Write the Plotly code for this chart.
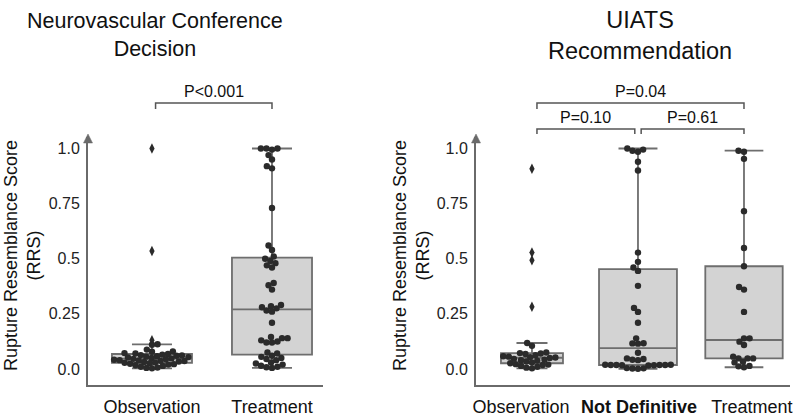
import math
import plotly.graph_objects as go

# ---------------- data ----------------
left_categories = ["Observation", "Treatment"]
left_observation = [1.0, 0.535, 0.13, 0.112, 0.11, 0.088, 0.08, 0.078, 0.072, 0.07, 0.068,
                    0.065, 0.063, 0.061, 0.06, 0.058, 0.056, 0.054, 0.052, 0.05, 0.048,
                    0.046, 0.044, 0.042, 0.04, 0.039, 0.037, 0.036, 0.034, 0.032, 0.03,
                    0.028, 0.026, 0.024, 0.022, 0.02, 0.017, 0.014, 0.01, 0.007, 0.005, 0.003]
left_treatment = [1.0, 1.0, 1.0, 0.995, 0.97, 0.95, 0.92, 0.91,
                  0.73, 0.56, 0.54, 0.51,
                  0.50, 0.49, 0.48, 0.47, 0.46, 0.38, 0.39, 0.36, 0.29, 0.285, 0.28, 0.275,
                  0.265, 0.26, 0.21, 0.145, 0.14, 0.14, 0.13, 0.125, 0.12, 0.12, 0.075, 0.07,
                  0.06, 0.055, 0.05, 0.045, 0.04, 0.03, 0.025, 0.02, 0.015, 0.01, 0.008, 0.005]

right_categories = ["Observation", "<b>Not Definitive</b>", "Treatment"]
right_observation = [0.908, 0.528, 0.493, 0.282, 0.118, 0.105,
                     0.075, 0.072, 0.07, 0.068, 0.062, 0.058, 0.056, 0.054, 0.052, 0.05,
                     0.046, 0.042, 0.04, 0.038, 0.034, 0.03, 0.026, 0.022, 0.02, 0.018,
                     0.014, 0.01, 0.006, 0.003]
right_not_definitive = [1.0, 0.995, 0.99, 0.985, 0.94, 0.90,
                        0.528, 0.486, 0.46, 0.445, 0.377, 0.277, 0.259, 0.21, 0.139,
                        0.117, 0.116, 0.115,
                        0.074, 0.048, 0.045, 0.042, 0.04,
                        0.019, 0.018, 0.018, 0.017, 0.016, 0.018, 0.019, 0.017, 0.018,
                        0.004, 0.003, 0.002, 0.001]
right_treatment = [0.99, 0.985, 0.953, 0.716, 0.549, 0.466, 0.372, 0.36, 0.259,
                   0.139, 0.139, 0.124, 0.109,
                   0.056, 0.048, 0.048, 0.048, 0.033, 0.03, 0.014, 0.012, 0.008]

y_tickvals = [0, 0.25, 0.5, 0.75, 1.0]
y_ticktext = ["0.0", "0.25", "0.5", "0.75", "1.0"]

left_pvalues = [(0, 1, "P<0.001", 0)]
right_pvalues = [(0, 2, "P=0.04", 0), (0, 1, "P=0.10", 1), (1, 2, "P=0.61", 1)]

# ---------------- layout constants ----------------
OFF = 0                      # page body margin is removed by the post script
W, H = 800, 420
FONT = "Liberation Sans, Arial, Helvetica, sans-serif"
Y_TOP_PX, Y_BOT_PX = 137, 385
YR = [-0.0726, 1.0522]
LX_PX, LX_RANGE = (88, 323), [-0.533, 1.425]
RX_PX, RX_RANGE = (476, 790), [-0.528, 2.434]
LEFT_LABEL_SHIFT = [0, 0]
RIGHT_LABEL_SHIFT = [-0.104, 0.01, 0.075]
AXIS_COL = "#6a6a6a"
BOX_FILL = "#d3d3d3"
BOX_LINE = "#6e6e6e"
DOT_COL = "#2b2b2b"
DOT = 6.4
SPACING = 5.6

ppy = (Y_BOT_PX - Y_TOP_PX) / (YR[1] - YR[0])


def px2paper_x(px):
    return (px - OFF) / W


def px2paper_y(py):
    return 1 - (py - OFF) / H


def hazen(sorted_vals, p):
    n = len(sorted_vals)
    idx = p * n - 0.5
    if idx < 0:
        return sorted_vals[0]
    if idx > n - 1:
        return sorted_vals[-1]
    lo = math.floor(idx)
    hi = math.ceil(idx)
    f = idx - lo
    return sorted_vals[lo] * (1 - f) + sorted_vals[hi] * f


def inliers(vals):
    s = sorted(vals)
    q1, q3 = hazen(s, 0.25), hazen(s, 0.75)
    iqr = q3 - q1
    lo, hi = q1 - 1.5 * iqr, q3 + 1.5 * iqr
    return [v for v in vals if lo <= v <= hi]


def swarm_offsets(vals, d):
    order = sorted(range(len(vals)), key=lambda i: vals[i])
    placed = []
    offs = [0.0] * len(vals)
    for i in order:
        y = vals[i] * ppy
        cands = [0.0]
        for (px, py) in placed:
            dy = abs(py - y)
            if dy < d:
                dx = math.sqrt(d * d - dy * dy)
                cands += [px + dx, px - dx]
        cands.sort(key=lambda c: (abs(c), c))
        chosen = cands[-1]
        for c in cands:
            if all((c - px) ** 2 + (y - py) ** 2 >= d * d - 1e-6 for px, py in placed):
                chosen = c
                break
        placed.append((chosen, y))
        offs[i] = chosen
    return offs


fig = go.Figure()

panels = [
    ("x", "y", LX_PX, LX_RANGE, [left_observation, left_treatment], [0.667, 0.667]),
    ("x2", "y2", RX_PX, RX_RANGE, [right_observation, right_not_definitive, right_treatment],
     [0.585, 0.735, 0.73]),
]

for xa, ya, xpx, xr, groups, bws in panels:
    ppx = (xpx[1] - xpx[0]) / (xr[1] - xr[0])
    for pos, vals in enumerate(groups):
        fig.add_trace(go.Box(
            x=[pos] * len(vals), y=vals, xaxis=xa, yaxis=ya,
            width=bws[pos], whiskerwidth=0.5, fillcolor=BOX_FILL,
            line=dict(color=BOX_LINE, width=1.8),
            boxpoints="outliers", pointpos=0, jitter=0,
            marker=dict(symbol="diamond-tall", size=7.5, color=DOT_COL),
            showlegend=False, hoverinfo="skip",
        ))
        inl = inliers(vals)
        offs = swarm_offsets(inl, SPACING)
        fig.add_trace(go.Scatter(
            x=[pos + o / ppx for o in offs], y=inl, xaxis=xa, yaxis=ya,
            mode="markers", marker=dict(size=DOT, color=DOT_COL),
            showlegend=False, hoverinfo="skip", cliponaxis=False,
        ))

ydom = [px2paper_y(Y_BOT_PX), px2paper_y(Y_TOP_PX)]
common_x = dict(showline=True, linecolor=AXIS_COL, linewidth=2, showgrid=False,
                zeroline=False, ticks="outside", ticklen=4, tickangle=0, automargin=False,
                tickcolor="rgba(0,0,0,0)", tickfont=dict(family=FONT, size=18, color="#111"),
                fixedrange=True)
common_y = dict(showline=True, linecolor=AXIS_COL, linewidth=2, showgrid=False,
                zeroline=False, ticks="outside", ticklen=3, tickcolor="rgba(0,0,0,0)",
                tickvals=y_tickvals, ticktext=y_ticktext, range=YR, domain=ydom,
                automargin=False,
                tickfont=dict(family=FONT, size=16, color="#222"), fixedrange=True)

fig.update_layout(
    width=W, height=H, margin=dict(l=0, r=0, t=0, b=0, pad=0), autosize=False,
    paper_bgcolor="white", plot_bgcolor="white",
    font=dict(family=FONT, color="#111"),
    xaxis=dict(domain=[px2paper_x(LX_PX[0]), px2paper_x(LX_PX[1])], range=LX_RANGE,
               tickvals=[i + s for i, s in enumerate(LEFT_LABEL_SHIFT)], ticktext=left_categories,
               anchor="y", **common_x),
    yaxis=dict(anchor="x", **common_y),
    xaxis2=dict(domain=[px2paper_x(RX_PX[0]), px2paper_x(RX_PX[1])], range=RX_RANGE,
                tickvals=[i + s for i, s in enumerate(RIGHT_LABEL_SHIFT)], ticktext=right_categories,
                anchor="y2", **common_x),
    yaxis2=dict(anchor="x2", **common_y),
)

shapes = []
annotations = []

# arrow heads on y axes
for xpx in (LX_PX[0], RX_PX[0]):
    tip = Y_TOP_PX - 3
    path = "M {},{} L {},{} L {},{} Z".format(
        px2paper_x(xpx - 4.5), px2paper_y(tip + 9),
        px2paper_x(xpx), px2paper_y(tip),
        px2paper_x(xpx + 4.5), px2paper_y(tip + 9))
    shapes.append(dict(type="path", path=path, xref="paper", yref="paper",
                       fillcolor=AXIS_COL, line=dict(color=AXIS_COL, width=0.5)))

# significance brackets
def add_brackets(pvals, xref, gap):
    levels = [(103, 109, 91), (129, 134, 117.5)]
    for a, b, txt, lvl in pvals:
        top, bot, ty = levels[lvl]
        x0 = a + gap if a == 0 else a + 0.03
        x1 = b - 0.03 if (lvl == 1 and b == 1) else b
        path = "M {},{} L {},{} L {},{} L {},{}".format(
            x0, px2paper_y(bot), x0, px2paper_y(top), x1, px2paper_y(top), x1, px2paper_y(bot))
        shapes.append(dict(type="path", path=path, xref=xref, yref="paper",
                           line=dict(color="#555", width=1.5)))
        annotations.append(dict(x=(x0 + x1) / 2, y=px2paper_y(ty), xref=xref, yref="paper",
                                text=txt, showarrow=False, xanchor="center", yanchor="middle",
                                font=dict(family=FONT, size=16, color="#111")))

add_brackets(left_pvalues, "x", 0.03)
add_brackets(right_pvalues, "x2", 0.047)

# titles
for cx, txt, fs in ((155, "Neurovascular Conference<br>Decision", 21.5),
                    (640, "UIATS<br>Recommendation", 23.5)):
    annotations.append(dict(x=px2paper_x(cx), y=px2paper_y(35), xref="paper", yref="paper",
                            text=txt, showarrow=False, xanchor="center", yanchor="middle",
                            font=dict(family=FONT, size=fs, color="#111")))

# y axis titles
for cx in (22, 411):
    annotations.append(dict(x=px2paper_x(cx), y=px2paper_y(256), xref="paper", yref="paper",
                            text="Rupture Resemblance Score<br>(RRS)", showarrow=False,
                            textangle=-90, xanchor="center", yanchor="middle",
                            font=dict(family=FONT, size=18, color="#111")))

fig.update_layout(shapes=shapes, annotations=annotations)
fig.write_html("out.html", config={"displayModeBar": False, "staticPlot": True},
               post_script="document.body.style.margin='0px';document.body.style.overflow='hidden';")
